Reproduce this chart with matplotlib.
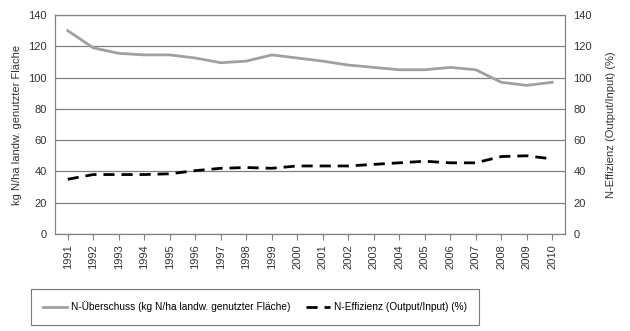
import numpy as np
import matplotlib
matplotlib.use('Agg')
from matplotlib import pyplot as plt

plt.rcParams['font.family'] = ['Liberation Sans', 'DejaVu Sans']

years = [str(y) for y in range(1991, 2011)]
ueberschuss = [130, 119, 115.5, 114.5, 114.5, 112.5, 109.5, 110.5, 114.5, 112.5,
               110.5, 108, 106.5, 105, 105, 106.5, 105, 97, 95, 97]
effizienz = [35, 38, 38, 38, 38.5, 40.5, 42, 42.5, 42, 43.5,
             43.5, 43.5, 44.5, 45.5, 46.5, 45.5, 45.5, 49.5, 50, 48]

fig = plt.figure(figsize=(6.3, 3.31), dpi=100)
ax = fig.add_axes([55/630, 1 - 234/331, (565-55)/630, (234-15)/331])
x = np.arange(len(years))

ax.set_axisbelow(True)
ax.yaxis.grid(True, color='#808080', linewidth=0.9)
l1, = ax.plot(x, ueberschuss, color='#a0a0a0', linewidth=2,
              label='N-Überschuss (kg N/ha landw. genutzter Fläche)')
ax2 = ax.twinx()
l2, = ax2.plot(x, effizienz, color='black', linewidth=2, dashes=(4, 2.5),
               label='N-Effizienz (Output/Input) (%)')

for a in (ax, ax2):
    a.set_ylim(0, 140)
    a.set_yticks(range(0, 141, 20))
    a.tick_params(axis='y', length=0, labelsize=8, colors='#333333', pad=6)
    for s in a.spines.values():
        s.set_color('#808080')

ax.set_xlim(-0.5, len(years) - 0.5)
ax.set_xticks(x)
ax.set_xticklabels(years, rotation=90, fontsize=8, color='#333333')
ax.tick_params(axis='x', length=4, color='#808080')

ax.set_ylabel('kg N/ha landw. genutzter Fläche', fontsize=8, color='#333333')
ax2.set_ylabel('N-Effizienz (Output/Input) (%)', fontsize=8, color='#333333', labelpad=10)

leg = fig.legend(handles=[l1, l2], loc='center', bbox_to_anchor=(255/630, 1 - 307/331),
                 ncol=2, fontsize=7.3, frameon=True, fancybox=False, edgecolor='#555555',
                 borderpad=1.2, handlelength=2.4, handletextpad=0.4, columnspacing=1.5)
leg.get_frame().set_linewidth(0.8)

plt.savefig('out.png', dpi=100)
